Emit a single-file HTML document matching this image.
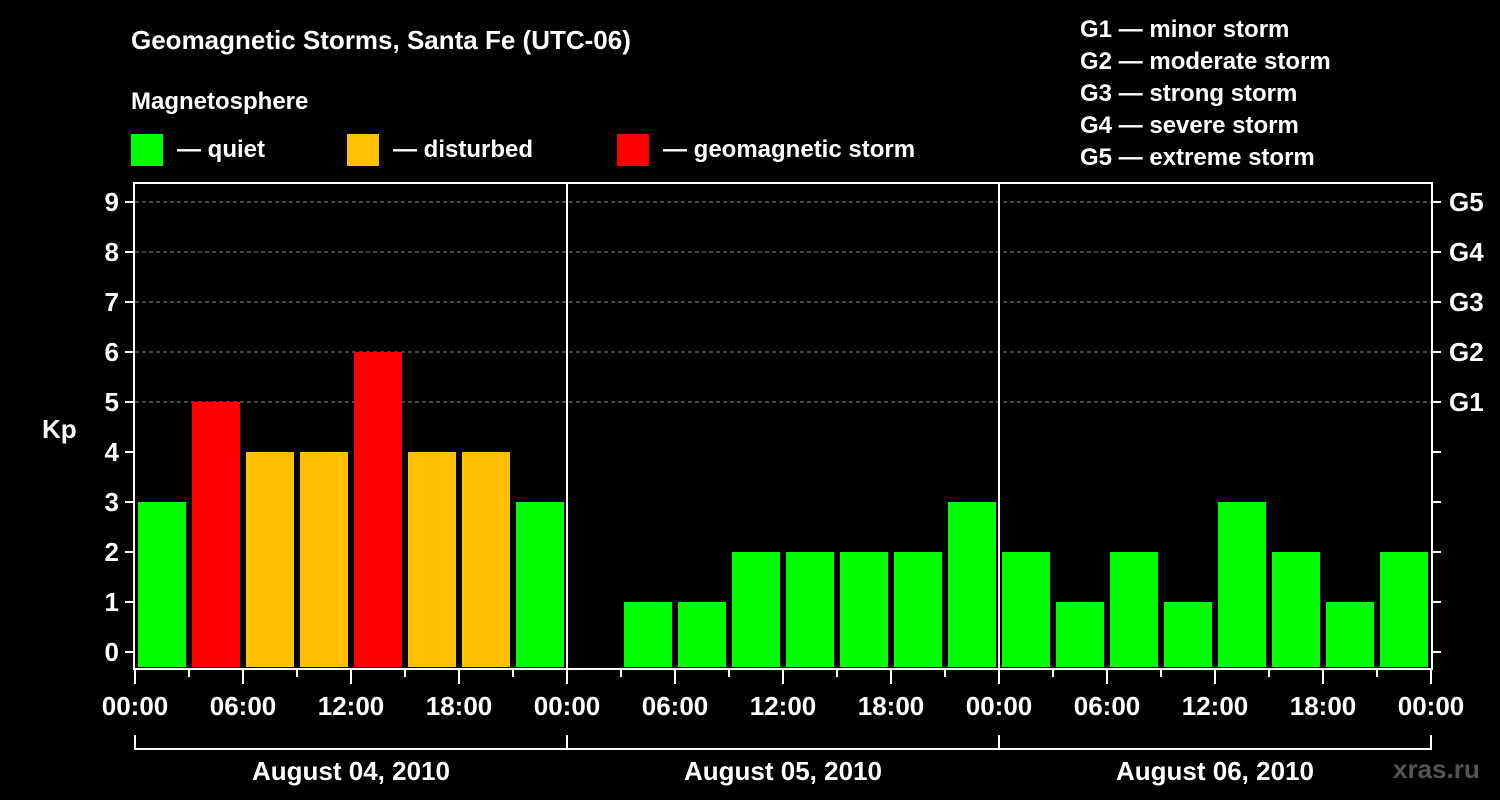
<!DOCTYPE html>
<html><head><meta charset="utf-8"><style>
body{margin:0;background:#000;}
svg{display:block;font-family:"Liberation Sans",Arial,sans-serif;font-weight:bold;}
</style></head><body>
<svg width="1500" height="800" viewBox="0 0 1500 800">
<rect width="1500" height="800" fill="#000"/>
<text x="131" y="49" fill="#fff" font-size="26">Geomagnetic Storms, Santa Fe (UTC-06)</text>
<text x="131" y="109" fill="#fff" font-size="24">Magnetosphere</text>
<g><rect x="131" y="134" width="32" height="32" fill="#00ff00"/><text x="177" y="157" fill="#fff" font-size="24">— quiet</text></g>
<g><rect x="347" y="134" width="32" height="32" fill="#ffc000"/><text x="393" y="157" fill="#fff" font-size="24">— disturbed</text></g>
<g><rect x="617" y="134" width="32" height="32" fill="#ff0000"/><text x="663" y="157" fill="#fff" font-size="24">— geomagnetic storm</text></g>
<g fill="#fff" font-size="24">
<text x="1080" y="37">G1 — minor storm</text>
<text x="1080" y="69">G2 — moderate storm</text>
<text x="1080" y="101">G3 — strong storm</text>
<text x="1080" y="133">G4 — severe storm</text>
<text x="1080" y="165">G5 — extreme storm</text>
</g>
<text x="42" y="438" fill="#fff" font-size="26">Kp</text>
<g id="plot"></g>
<text x="1393" y="778" fill="#555" font-size="26">xras.ru</text>
</svg>
<script>
const values = [3,5,4,4,6,4,4,3, 0,1,1,2,2,2,2,3, 2,1,2,1,3,2,1,2];
const days = ["August 04, 2010","August 05, 2010","August 06, 2010"];
const hourLabels = ["00:00","06:00","12:00","18:00"];
const yTicks = [0,1,2,3,4,5,6,7,8,9];
const gLabels = ["G1","G2","G3","G4","G5"];
const NS="http://www.w3.org/2000/svg";
const g=document.getElementById('plot');
const L=135,R=1431,T=183,B=668;
const x=h=>L+(R-L)*h/72;
const y=v=>652-50*v;
function mk(tag,attrs,parent){const e=document.createElementNS(NS,tag);for(const k in attrs)e.setAttribute(k,attrs[k]);(parent||g).appendChild(e);return e;}
// gridlines
for(let v=5;v<=9;v++){const l=mk('line',{x1:L,x2:R,y1:y(v),y2:y(v),stroke:'#888','stroke-dasharray':'4,3','stroke-width':1});

}
// bars
values.forEach((v,i)=>{if(v<=0)return;
const c=v>=5?'#ff0000':(v>=4?'#ffc000':'#00ff00');
const r=mk('rect',{x:x(i*3)+3,y:y(v),width:x(3)-L-6,height:B-1-y(v),fill:c});

});
// frame
const f=mk('rect',{x:L-1,y:T,width:R-L+2,height:B-T+1,fill:'none',stroke:'#fff','stroke-width':2});


for(let d=1;d<3;d++){const l=mk('line',{x1:x(d*24),x2:x(d*24),y1:T,y2:B,stroke:'#fff','stroke-width':2});

}
// y ticks
yTicks.forEach(v=>{mk('line',{x1:L-10,x2:L,y1:y(v),y2:y(v),stroke:'#fff','stroke-width':2});
mk('line',{x1:R,x2:R+10,y1:y(v),y2:y(v),stroke:'#fff','stroke-width':2});
const t=mk('text',{x:L-16,y:y(v)+9,fill:'#fff','font-size':26,'text-anchor':'end'});t.textContent=v;

});
gLabels.forEach((s,i)=>{const t=mk('text',{x:R+18,y:y(5+i)+9,fill:'#fff','font-size':26});t.textContent=s;

});
// x ticks
for(let h=0;h<=72;h+=3){const major=h%6===0;mk('line',{x1:x(h),x2:x(h),y1:B,y2:B+(major?16:9),stroke:'#fff','stroke-width':2});}
for(let h=0;h<=72;h+=6){const t=mk('text',{x:x(h),y:715,fill:'#fff','font-size':26,'text-anchor':'middle'});t.textContent=hourLabels[(h/6)%4];

}
// day brackets
mk('line',{x1:L,x2:R,y1:749,y2:749,stroke:'#fff','stroke-width':2});
for(let d=0;d<=3;d++)mk('line',{x1:x(d*24),x2:x(d*24),y1:735,y2:750,stroke:'#fff','stroke-width':2});
days.forEach((s,d)=>{const t=mk('text',{x:x(d*24+12),y:780,fill:'#fff','font-size':26,'text-anchor':'middle'});t.textContent=s;

});
</script>
</body></html>
